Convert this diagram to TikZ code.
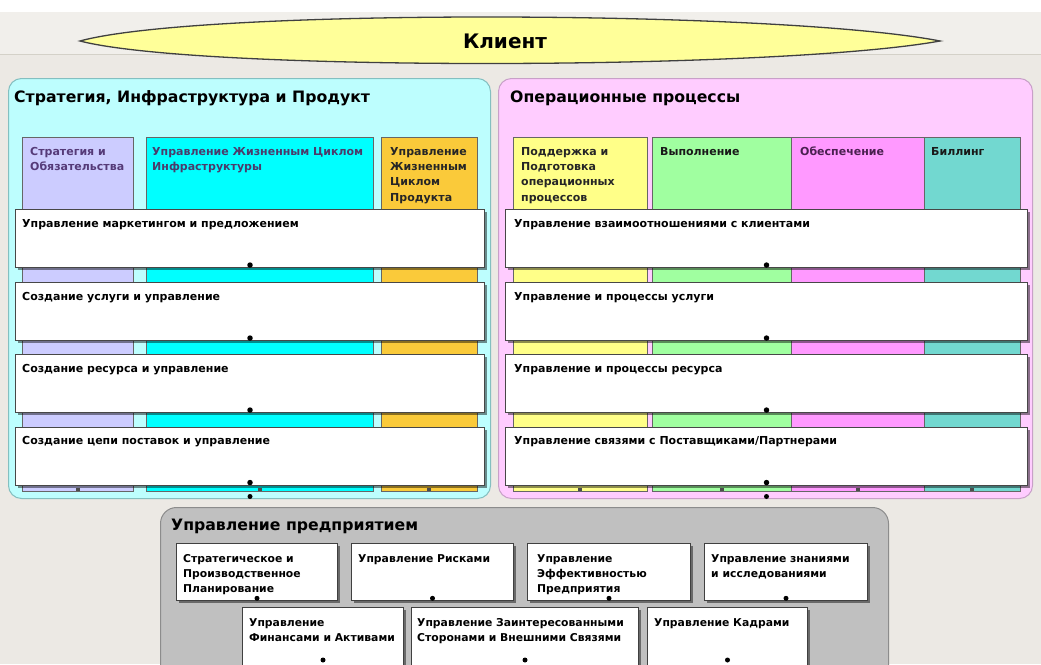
\documentclass[tikz,border=0pt]{standalone}
\usepackage{fontspec}
\setmainfont{DejaVu Sans}
\usetikzlibrary{shadows}
\definecolor{bgmain}{HTML}{ECE9E4}
\definecolor{bgtop}{HTML}{F1EFEB}
\definecolor{sepline}{HTML}{D4D1C8}
\definecolor{clientyellow}{HTML}{FFFF99}
\definecolor{lpanelfill}{HTML}{BDFEFE}
\definecolor{lpaneldraw}{HTML}{84BFC0}
\definecolor{rpanelfill}{HTML}{FFCCFF}
\definecolor{rpaneldraw}{HTML}{C8A0C8}
\definecolor{epanelfill}{HTML}{C0C0C0}
\definecolor{epaneldraw}{HTML}{8C8C8C}
\definecolor{clav}{HTML}{CCCCFF}
\definecolor{ccyan}{HTML}{00FFFF}
\definecolor{corange}{HTML}{FACA3A}
\definecolor{cyellow}{HTML}{FFFF88}
\definecolor{cgreen}{HTML}{A0FFA0}
\definecolor{cmagenta}{HTML}{FF99FF}
\definecolor{cteal}{HTML}{72D8D0}
\definecolor{tpurple}{HTML}{553A78}
\definecolor{tpurple2}{HTML}{4B3B6B}
\definecolor{tplum}{HTML}{4A2050}
\newcommand{\ft}{\rule{0pt}{9pt}}
\begin{document}
\begin{tikzpicture}[x=1pt,y=-1pt,
  panelbox/.style={rounded corners=13pt, line width=1pt, anchor=north west, inner sep=0pt},
  colbox/.style={draw=black!60, line width=0.8pt, anchor=north west, inner sep=0pt, minimum height=354pt},
  rowbox/.style={draw=black!72, fill=white, line width=1pt, anchor=north west, inner sep=0pt, minimum height=58pt,
    drop shadow={shadow xshift=2.5pt, shadow yshift=-2.5pt, opacity=0.45, fill=black}},
  ebox/.style={draw=black!75, fill=white, line width=1pt, anchor=north west, inner sep=0pt,
    drop shadow={shadow xshift=2.5pt, shadow yshift=-2.5pt, opacity=0.45, fill=black}},
  rowtxt/.style={anchor=base west, inner sep=0pt, font=\fontsize{11}{15}\selectfont\bfseries},
  coltxt/.style={anchor=north west, inner sep=0pt, align=left, font=\fontsize{11}{15.3}\selectfont\bfseries},
  etxt/.style={anchor=north west, inner sep=0pt, align=left, font=\fontsize{10.8}{15}\selectfont\bfseries},
  paneltitle/.style={anchor=base west, inner sep=0pt, font=\fontsize{15.7}{18}\selectfont\bfseries},
  dotm/.style={circle, fill=black, inner sep=0pt, minimum size=5.5pt},
  colmark/.style={fill=black!70, inner sep=0pt, minimum width=4pt, minimum height=3pt, anchor=south},
]
\useasboundingbox (0,0) rectangle (1041,664);
% background
\fill[bgmain] (0,0) rectangle (1041,664);
\fill[white] (0,0) rectangle (1041,12);
\fill[bgtop] (0,12) rectangle (1041,54);
\draw[sepline, line width=1pt] (0,54) -- (1041,54);

% client
\draw[fill=clientyellow, draw=black!75, line width=1.3pt]
  (80,41) .. controls (200,8) and (780,10) .. (940,41)
          .. controls (780,70) and (200,72) .. (80,41) -- cycle;
\node[font=\fontsize{20}{24}\selectfont\bfseries, inner sep=0pt] (client) at (505,41) {Клиент};

% panels
\node[panelbox, fill=lpanelfill, draw=lpaneldraw, minimum width=482pt, minimum height=420pt] (lpanel) at (8,78) {};
\node[panelbox, fill=rpanelfill, draw=rpaneldraw, minimum width=534pt, minimum height=420pt] (rpanel) at (498,78) {};
\node[paneltitle] (ltitle) at (14,102) {Стратегия, Инфраструктура и Продукт};
\node[paneltitle] (rtitle) at (510,102) {Операционные процессы};

% left columns
\node[colbox, fill=clav, minimum width=111pt] (lc1) at (22,137) {};
\node[colbox, fill=ccyan, minimum width=227pt] (lc2) at (146,137) {};
\node[colbox, fill=corange, minimum width=96pt] (lc3) at (381,137) {};
\node[coltxt, text=tpurple] (lt1) at ([shift={(8,9)}]lc1.north west) {\ft Стратегия и\\Обязательства};
\node[coltxt, text=tpurple2] (lt2) at ([shift={(6,9)}]lc2.north west) {\ft Управление Жизненным Циклом\\Инфраструктуры};
\node[coltxt, text=black!85] (lt3) at ([shift={(9,9)}]lc3.north west) {\ft Управление\\Жизненным\\Циклом\\Продукта};

% right columns
\node[colbox, fill=cyellow, minimum width=134pt] (rc1) at (513,137) {};
\node[colbox, fill=cgreen, minimum width=139pt] (rc2) at (652,137) {};
\node[colbox, fill=cmagenta, minimum width=133pt] (rc3) at (791,137) {};
\node[colbox, fill=cteal, minimum width=96pt] (rc4) at (924,137) {};
\node[coltxt, text=black!85] (rt1) at ([shift={(8,9)}]rc1.north west) {\ft Поддержка и\\Подготовка\\операционных\\процессов};
\node[coltxt, text=black!90] (rt2) at ([shift={(8,9)}]rc2.north west) {\ft Выполнение};
\node[coltxt, text=tplum] (rt3) at ([shift={(9,9)}]rc3.north west) {\ft Обеспечение};
\node[coltxt, text=black!90] (rt4) at ([shift={(7,9)}]rc4.north west) {\ft Биллинг};

% column bottom marks
\foreach \c in {lc1,lc2,lc3,rc1,rc2,rc3,rc4}
  \node[colmark] (\c m) at ([yshift=1pt]\c.south) {};

% left rows
\node[rowbox, minimum width=469pt] (l1) at (15,209) {};
\node[rowbox, minimum width=469pt] (l2) at (15,282) {};
\node[rowbox, minimum width=469pt] (l3) at (15,354) {};
\node[rowbox, minimum width=469pt] (l4) at (15,426.5) {};
\node[rowtxt] (l1t) at ([shift={(7,18)}]l1.north west) {Управление маркетингом и предложением};
\node[rowtxt] (l2t) at ([shift={(7,18)}]l2.north west) {Создание услуги и управление};
\node[rowtxt] (l3t) at ([shift={(7,18)}]l3.north west) {Создание ресурса и управление};
\node[rowtxt] (l4t) at ([shift={(7,18)}]l4.north west) {Создание цепи поставок и управление};

% right rows
\node[rowbox, minimum width=522pt] (r1) at (505,209) {};
\node[rowbox, minimum width=522pt] (r2) at (505,282) {};
\node[rowbox, minimum width=522pt] (r3) at (505,354) {};
\node[rowbox, minimum width=522pt] (r4) at (505,426.5) {};
\node[rowtxt] (r1t) at ([shift={(9,18)}]r1.north west) {Управление взаимоотношениями с клиентами};
\node[rowtxt] (r2t) at ([shift={(9,18)}]r2.north west) {Управление и процессы услуги};
\node[rowtxt] (r3t) at ([shift={(9,18)}]r3.north west) {Управление и процессы ресурса};
\node[rowtxt] (r4t) at ([shift={(9,18)}]r4.north west) {Управление связями с Поставщиками/Партнерами};

% row dots
\foreach \r in {l1,l2,l3,l4,r1,r2,r3,r4}
  \node[dotm, anchor=south] (\r d) at (\r.south) {};
\node[dotm, minimum size=5pt] (l4x) at ([yshift=-11pt]l4.south) {};
\node[dotm, minimum size=5pt] (r4x) at ([yshift=-11pt]r4.south) {};

% enterprise panel
\node[panelbox, rounded corners=16pt, fill=epanelfill, draw=epaneldraw, minimum width=728pt, minimum height=220pt] (epanel) at (160,507) {};
\node[paneltitle] (etitle) at (171,530) {Управление предприятием};

\node[ebox, minimum width=161pt, minimum height=57pt] (e1) at (176,543) {};
\node[ebox, minimum width=162pt, minimum height=57pt] (e2) at (351,543) {};
\node[ebox, minimum width=163pt, minimum height=57pt] (e3) at (527,543) {};
\node[ebox, minimum width=163pt, minimum height=57pt] (e4) at (704,543) {};
\node[ebox, minimum width=161pt, minimum height=64pt] (e5) at (242,607) {};
\node[ebox, minimum width=227pt, minimum height=64pt] (e6) at (411,607) {};
\node[ebox, minimum width=160pt, minimum height=64pt] (e7) at (647,607) {};

\node[etxt] (e1t) at ([shift={(7,10)}]e1.north west) {\ft Стратегическое и\\Производственное\\Планирование};
\node[etxt] (e2t) at ([shift={(7,10)}]e2.north west) {\ft Управление Рисками};
\node[etxt] (e3t) at ([shift={(10,10)}]e3.north west) {\ft Управление\\Эффективностью\\Предприятия};
\node[etxt] (e4t) at ([shift={(7,10)}]e4.north west) {\ft Управление знаниями\\и исследованиями};
\node[etxt] (e5t) at ([shift={(7,10)}]e5.north west) {\ft Управление\\Финансами и Активами};
\node[etxt] (e6t) at ([shift={(6,10)}]e6.north west) {\ft Управление Заинтересованными\\Сторонами и Внешними Связями};
\node[etxt] (e7t) at ([shift={(7,10)}]e7.north west) {\ft Управление Кадрами};

\foreach \e in {e1,e2,e3,e4}
  \node[dotm, minimum size=5pt, anchor=south] (\e d) at (\e.south) {};
\foreach \e in {e5,e6,e7}
  \node[dotm, minimum size=5pt] (\e d) at ([yshift=-53pt]\e.north) {};
\end{tikzpicture}
\end{document}
